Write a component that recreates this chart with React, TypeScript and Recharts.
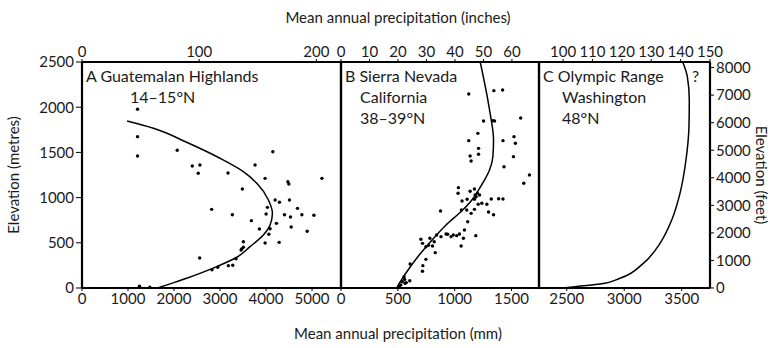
import { ComposedChart, XAxis, YAxis, Scatter, Line, ReferenceLine } from "recharts";

// precipitation (mm), elevation (m)
const guatemalaPts: [number, number][] = [
  [1207, 1977], [1207, 1674], [1207, 1460], [2070, 1523], [2397, 1350], [2564, 1361],
  [2527, 1269], [3174, 1272], [3762, 1361], [4148, 1508], [3980, 1213], [4475, 1176],
  [4496, 1150], [5215, 1213], [3486, 1095], [4198, 973], [4292, 948], [4510, 973],
  [2818, 870], [4030, 892], [4684, 881], [3268, 811], [4002, 818], [4401, 811],
  [4532, 785], [4780, 811], [5041, 804], [3682, 745], [4227, 715], [3856, 653],
  [4089, 656], [4547, 675], [4061, 594], [4895, 627], [3980, 498], [4286, 505],
  [3508, 512], [3508, 450], [3472, 431], [3458, 420], [2558, 332], [3349, 324],
  [3181, 247], [3277, 251], [2950, 229], [2826, 202], [1250, 19], [1475, 8],
];
const guatemalaCurve: [number, number][] = [
  [980, 1847], [1553, 1767], [2274, 1612], [3000, 1435], [3500, 1290], [3800, 1158],
  [4052, 973], [4139, 826], [4089, 697], [3943, 586], [3653, 457], [3364, 340],
  [2928, 236], [2274, 107], [1693, 8], [1650, 0],
];

const sierraPts: [number, number][] = [
  [1124, 2146], [1345, 2183], [1422, 2190], [1254, 1847], [1336, 1851], [1351, 1847],
  [1581, 1881], [1204, 1711], [1124, 1630], [1425, 1630], [1522, 1674], [1534, 1601],
  [1210, 1545], [1210, 1479], [1136, 1460], [1145, 1405], [1517, 1453], [1434, 1342],
  [1658, 1250], [1608, 1158], [1033, 1110], [1030, 1048], [1136, 1070], [1174, 1095],
  [1189, 1010], [1219, 1029], [1200, 1050], [1180, 1030], [1174, 981], [1065, 962],
  [1110, 981], [1239, 937], [1283, 926], [1322, 984], [1387, 988], [1425, 984],
  [1207, 926], [1059, 863], [1106, 863], [1174, 870], [1145, 826], [1298, 841],
  [1342, 811], [876, 852], [1115, 733], [1086, 642], [1186, 579], [1057, 465],
  [924, 597], [841, 586], [880, 568], [938, 594], [968, 568], [988, 586],
  [1018, 579], [1042, 597], [1077, 550], [703, 539], [717, 494], [747, 457],
  [770, 472], [782, 550], [805, 465], [820, 512], [829, 391], [747, 317],
  [608, 265], [720, 247], [717, 185], [605, 81], [555, 125], [540, 70],
  [526, 33], [564, 52], [511, 14], [560, 95], [575, 60],
];
const sierraCurve: [number, number][] = [
  [1225, 2500], [1307, 1969], [1342, 1637], [1336, 1452], [1307, 1305], [1263, 1195],
  [1219, 1103], [1174, 1010], [1071, 863], [924, 697], [776, 494], [688, 365],
  [570, 163], [496, 14], [490, 0],
];

const olympicCurve: [number, number][] = [
  [3509, 2500], [3549, 2337], [3566, 2080], [3563, 1784], [3537, 1416], [3485, 1047],
  [3413, 752], [3311, 494], [3166, 273], [2963, 107], [2790, 44], [2572, 14], [2470, 0],
];

const elevTicks = [0, 500, 1000, 1500, 2000, 2500];
const feetTicks = [0, 1000, 2000, 3000, 4000, 5000, 6000, 7000, 8000];
const mmTicksA = [0, 1000, 2000, 3000, 4000, 5000];
const mmTicksB = [0, 500, 1000, 1500];
const mmTicksC = [2500, 3000, 3500];
const inTicksA = [0, 100, 200];
const inTicksB = [0, 10, 20, 30, 40, 50, 60];
const inTicksC = [100, 110, 120, 130, 140, 150];

const MM_PER_IN = 25.4;
const toXY = (pts: [number, number][]) => pts.map(([x, y]) => ({ x, y }));

const FONT = "Lato, 'Open Sans', sans-serif";
const INK = "#1a1a1a";
const tickStyle = { fontSize: 15, fill: INK, fontFamily: FONT };
const axisLine = { stroke: "#000", strokeWidth: 2 };

const Dot = (props: any) => <circle cx={props.cx} cy={props.cy} r={1.7} fill="#000" />;
const NoDot = () => <g />;

const chartPos: React.CSSProperties = { position: "absolute", left: 0, top: 0 };

function Panel({
  left, right, mmDomain, mmTicks, inDomain, inTicks, pts, curve, leftAxis, rightAxis,
}: {
  left: number; right: number;
  mmDomain: [number, number]; mmTicks: number[];
  inDomain: [number, number]; inTicks: number[];
  pts?: [number, number][]; curve: [number, number][];
  leftAxis?: boolean; rightAxis?: boolean;
}) {
  const curveIn = curve.map(([x, y]) => ({ x: x / MM_PER_IN, y }));
  return (
    <ComposedChart
      width={770}
      height={348}
      style={chartPos}
      margin={{ top: 40, bottom: 38, left: leftAxis ? left - 50 : left, right: rightAxis ? 770 - right - 50 : 770 - right }}
    >
      <XAxis
        xAxisId="mm" dataKey="x" type="number" domain={mmDomain} ticks={mmTicks}
        allowDataOverflow height={22} axisLine={axisLine} tickLine={{ stroke: "#000" }}
        tickSize={3} tick={tickStyle} interval={0}
      />
      <XAxis
        xAxisId="in" dataKey="x" type="number" orientation="top" domain={inDomain} ticks={inTicks}
        allowDataOverflow height={22} axisLine={axisLine} tickLine={{ stroke: "#000" }}
        tickSize={3} tick={tickStyle} interval={0}
      />
      <YAxis
        yAxisId="m" dataKey="y" type="number" domain={[0, 2500]} ticks={elevTicks}
        allowDataOverflow width={leftAxis ? 50 : 0} hide={!leftAxis} axisLine={axisLine}
        tickLine={{ stroke: "#000" }} tickSize={6} tick={tickStyle} interval={0}
      />
      {rightAxis && (
        <YAxis
          yAxisId="ft" orientation="right" type="number" domain={[0, 8202]} ticks={feetTicks}
          allowDataOverflow width={50} axisLine={axisLine} tickLine={{ stroke: "#000" }}
          tickSize={4} tick={tickStyle} interval={0}
        />
      )}
      {/* panel frame */}
      <ReferenceLine xAxisId="mm" yAxisId="m" y={0} stroke="#000" strokeWidth={2.2} />
      <ReferenceLine xAxisId="mm" yAxisId="m" y={2500} stroke="#000" strokeWidth={2.2} />
      <ReferenceLine xAxisId="mm" yAxisId="m" x={mmDomain[0]} stroke="#000" strokeWidth={2.2} />
      <ReferenceLine xAxisId="mm" yAxisId="m" x={mmDomain[1]} stroke="#000" strokeWidth={2.2} />
      {/* keeps the inches axis bound to a series */}
      <Scatter xAxisId="in" yAxisId="m" data={curveIn} shape={NoDot} isAnimationActive={false} />
      {pts && (
        <Scatter
          xAxisId="mm" yAxisId="m" data={toXY(pts)} shape={Dot}
          isAnimationActive={false}
        />
      )}
      <Line
        xAxisId="mm" yAxisId="m" data={toXY(curve)} dataKey="y" type="monotoneY"
        stroke="#000" strokeWidth={1.5} dot={false} isAnimationActive={false}
      />
    </ComposedChart>
  );
}

const txt = (left: number, cy: number, s: string, extra?: React.CSSProperties) => (
  <div
    style={{
      position: "absolute", left, top: cy, transform: "translateY(-50%)",
      fontSize: 16, fontFamily: FONT, color: INK, whiteSpace: "nowrap", lineHeight: 1,
      ...extra,
    }}
  >
    {s}
  </div>
);

const title: React.CSSProperties = {
  position: "absolute", fontSize: 15, fontFamily: FONT, color: INK, whiteSpace: "nowrap", lineHeight: 1,
};

export default function App() {
  return (
    <div style={{ position: "relative", width: 770, height: 348, overflow: "hidden", background: "#fff" }}>
      <style>{"body{margin:0}"}</style>
      <Panel
        left={82} right={341} mmDomain={[0, 5630]} mmTicks={mmTicksA}
        inDomain={[0, 221]} inTicks={inTicksA} pts={guatemalaPts} curve={guatemalaCurve} leftAxis
      />
      <Panel
        left={341} right={539} mmDomain={[0, 1742]} mmTicks={mmTicksB}
        inDomain={[0, 69.5]} inTicks={inTicksB} pts={sierraPts} curve={sierraCurve}
      />
      <Panel
        left={539} right={710} mmDomain={[2259, 3746]} mmTicks={mmTicksC}
        inDomain={[91.8, 150]} inTicks={inTicksC} curve={olympicCurve} rightAxis
      />

      {txt(86, 76, "A Guatemalan Highlands")}
      {txt(130, 97, "14–15°N")}
      {txt(345, 76, "B Sierra Nevada")}
      {txt(360, 97, "California")}
      {txt(360, 118, "38–39°N")}
      {txt(543, 76, "C Olympic Range")}
      {txt(562, 97, "Washington")}
      {txt(562, 118, "48°N")}
      {txt(692, 76, "?")}

      <div style={{ ...title, left: 398, top: 17, transform: "translate(-50%,-50%)" }}>
        Mean annual precipitation (inches)
      </div>
      <div style={{ ...title, left: 398, top: 333, transform: "translate(-50%,-50%)" }}>
        Mean annual precipitation (mm)
      </div>
      <div style={{ ...title, left: 13, top: 175, transform: "translate(-50%,-50%) rotate(-90deg)" }}>
        Elevation (metres)
      </div>
      <div style={{ ...title, left: 761, top: 175, transform: "translate(-50%,-50%) rotate(90deg)" }}>
        Elevation (feet)
      </div>
    </div>
  );
}
